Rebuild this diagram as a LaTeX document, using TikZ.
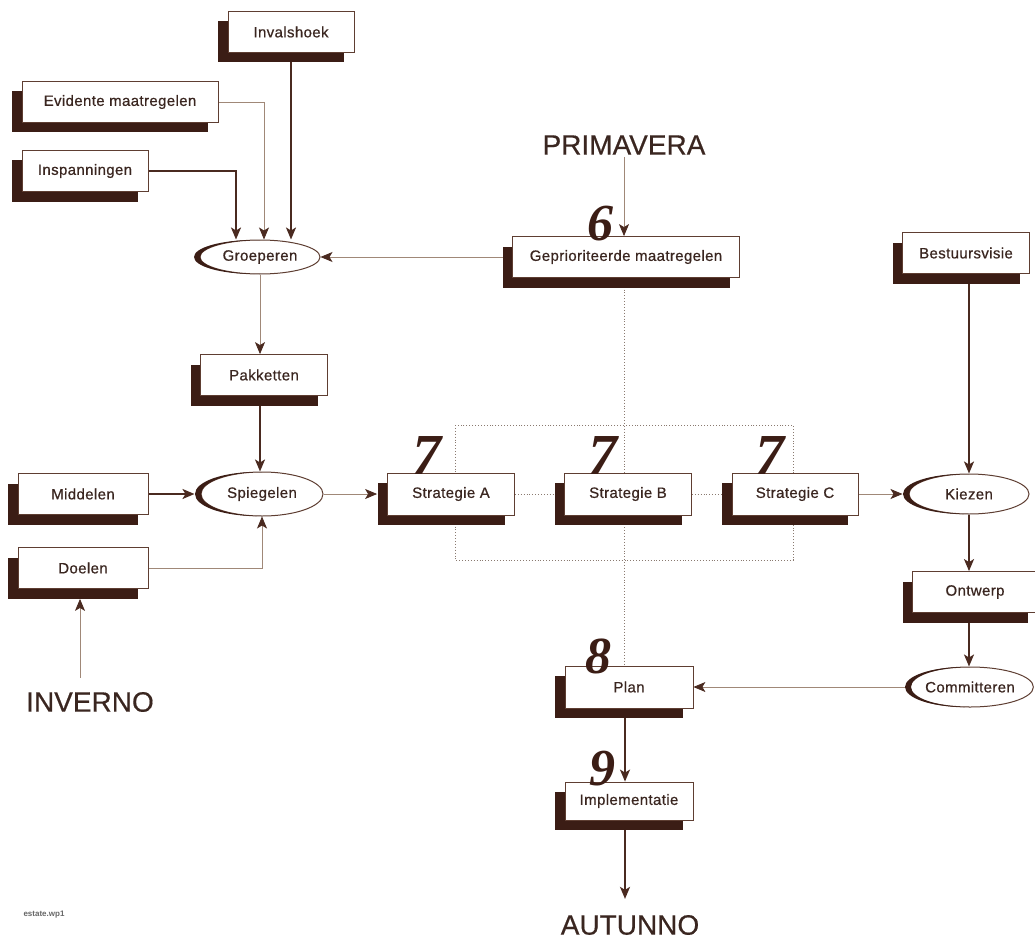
\documentclass[tikz,border=0pt]{standalone}
\usepackage{fontspec}
\setmainfont{Liberation Sans}
\newfontfamily\numfont{Liberation Serif}
\newfontfamily\boxfont[LetterSpace=2.5,FakeBold=0.6]{Liberation Sans}
\newfontfamily\seasonfont[FakeBold=0.5]{Liberation Sans}
\usetikzlibrary{shadows,arrows.meta,backgrounds,calc,shapes.geometric}
\definecolor{shd}{HTML}{3B1D15}
\definecolor{boxline}{HTML}{5E3E32}
\definecolor{txt}{HTML}{3A2620}
\definecolor{ln}{HTML}{4A2A20}
\definecolor{ln2}{HTML}{A08878}
\definecolor{dotc}{HTML}{8A7A70}
\tikzset{
  box/.style={draw=boxline, line width=0.8pt, fill=white, text=txt,
    font=\boxfont\fontsize{15}{17}\selectfont, inner sep=0pt, minimum height=41,
    general shadow={fill=shd, shadow xshift=-10pt, shadow yshift=-10pt}},
  oval/.style={ellipse, draw=boxline, line width=1pt, fill=white, text=txt,
    font=\boxfont\fontsize{15}{17}\selectfont, inner sep=0pt},
  season/.style={text=txt, font=\seasonfont\fontsize{28}{30}\selectfont, inner sep=2pt},
  num/.style={text=shd, font=\numfont\bfseries\itshape\fontsize{52}{52}\selectfont, inner sep=0pt},
  numbig/.style={num, font=\numfont\bfseries\itshape\fontsize{58}{58}\selectfont},
  tip/.style={-{Stealth[length=12pt,width=10pt,inset=3pt,color=ln]}},
  strong/.style={draw=ln, line width=1.8pt, tip},
  faint/.style={draw=ln2, line width=0.8pt, tip},
  dotl/.style={draw=dotc, line width=0.9pt, dotted}
}
\newcommand{\mycres}[4]{%
  \begin{scope}
    \clip (#1-#3-12,#2-#4-3) rectangle (#1,#2+#4+3);
    \fill[shd, even odd rule] (#1-6,#2) ellipse [x radius=#3, y radius=#4]
      (#1,#2) ellipse [x radius=#3, y radius=#4];
  \end{scope}}
\begin{document}
\begin{tikzpicture}[x=1pt,y=-1pt]
\useasboundingbox (0,0) rectangle (1035,944);

% boxes
\node[box, minimum width=126] (inv) at (291,32) {Invalshoek};
\node[box, minimum width=196] (evi) at (120,102) {Evidente maatregelen};
\node[box, minimum width=126] (insp) at (85,171) {Inspanningen};
\node[box, minimum width=227] (gep) at (626,257) {Geprioriteerde maatregelen};
\node[box, minimum width=127] (pak) at (264,375) {Pakketten};
\node[box, minimum width=130] (mid) at (83,494) {Middelen};
\node[box, minimum width=130] (doe) at (83,568) {Doelen};
\node[box, minimum width=127, minimum height=42] (sa) at (451,494) {Strategie A};
\node[box, minimum width=127, minimum height=42] (sb) at (628,494) {Strategie B};
\node[box, minimum width=126, minimum height=42] (sc) at (795,494) {Strategie C};
\node[box, minimum width=127] (bes) at (966,253) {Bestuursvisie};
\node[box, minimum width=125] (ont) at (975,592) {Ontwerp};
\node[box, minimum width=128, minimum height=42] (pln) at (629,687) {Plan};
\node[box, minimum width=128, minimum height=38] (imp) at (629,801) {Implementatie};

% ellipses
\node[oval, minimum width=120, minimum height=34] (grp) at (260,257) {Groeperen};
\mycres{260}{257}{60}{17}
\node[oval, minimum width=122, minimum height=44] (spg) at (262,494) {Spiegelen};
\mycres{262}{494}{61}{22}
\node[oval, minimum width=120, minimum height=40] (kie) at (969,494) {Kiezen};
\mycres{969}{494}{60}{20}
\node[oval, minimum width=118, minimum height=40] (com) at (970,687) {Committeren};
\mycres{970}{687}{59}{20}

% seasons
\node[season] (pri) at (624,145) {PRIMAVERA};
\node[season] (win) at (90,702) {INVERNO};
\node[season] (aut) at (630,925) {AUTUNNO};
\node[text=gray!80!black, font=\bfseries\fontsize{8}{9}\selectfont] (fn) at (44,915) {estate.wp1};

% numbers
\node[num] (n6) at (600,224) {6};
\node[numbig] (n7a) at (427,456) {7};
\node[numbig] (n7b) at (603,456) {7};
\node[numbig] (n7c) at (770,456) {7};
\node[num] (n8) at (598,656) {8};
\node[num] (n9) at (602,769) {9};

\path ([xshift=-10pt]win.north) coordinate (wtop);
\path ([yshift=-10pt]doe.south) coordinate (dsb);

\begin{pgfonlayer}{background}
  % dotted frame and links
  \draw[dotl] (455,425) rectangle (793,560);
  \draw[dotl] (pri.south |- gep.south) -- (pri.south |- pln.north);
  \draw[dotl] (sa.east) -- (sb.west);
  \draw[dotl] (sb.east) -- (sc.west);
  % top-left inputs
  \draw[strong] (inv.south) -- (inv.south |- grp.north);
  \draw[faint] (evi.east) -| ([xshift=4pt]grp.north);
  \draw[strong] (insp.east) -| ([xshift=-24pt]grp.north);
  \draw[faint] (gep.west) -- (grp.east);
  \draw[faint] (pri.south) -- (pri.south |- gep.north);
  \draw[faint] (grp.south) -- (grp.south |- pak.north);
  \draw[strong] (pak.south -| grp.south) -- (spg.north -| grp.south);
  \draw[strong] (mid.east) -- ([xshift=-6pt]spg.west);
  \draw[faint] (doe.east) -| (spg.south);
  \draw[faint, shorten <=12pt] (wtop) -- (wtop |- dsb);
  \draw[faint] (spg.east) -- ([xshift=-10pt]sa.west);
  \draw[faint] (sc.east) -- ([xshift=-6pt]kie.west);
  \draw[strong] (bes.south -| kie.north) -- (kie.north);
  \draw[strong] (kie.south) -- (kie.south |- ont.north);
  \draw[strong] (kie.south |- ont.south) -- (com.north -| kie.south);
  \draw[faint] (com.west) -- (pln.east);
  \draw[strong] (pln.south -| 625,0) -- (imp.north -| 625,0);
  \draw[strong, shorten >=14pt] (imp.south -| 625,0) -- (aut.north -| 625,0);
\end{pgfonlayer}
\end{tikzpicture}
\end{document}
